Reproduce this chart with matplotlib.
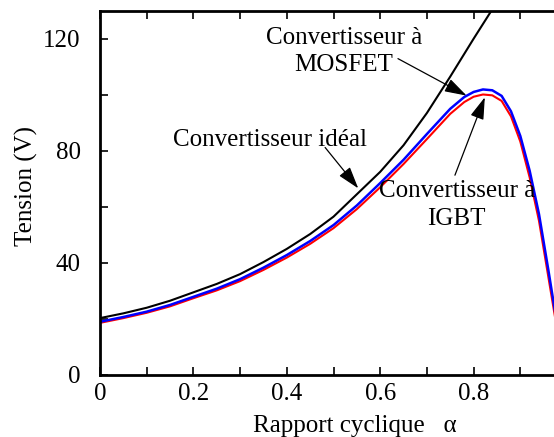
import numpy as np
import matplotlib
matplotlib.use('Agg')
import matplotlib.pyplot as plt
from matplotlib.ticker import MultipleLocator, FuncFormatter

# values
alpha_ideal = [0.00, 0.05, 0.10, 0.15, 0.20, 0.25, 0.30, 0.35, 0.40, 0.45,
               0.50, 0.55, 0.60, 0.65, 0.70, 0.75, 0.80, 0.84, 0.86]
v_ideal = [20.3, 22.0, 24.0, 26.5, 29.5, 32.5, 36.0, 40.3, 45.0, 50.3,
           56.5, 64.5, 72.5, 82.0, 93.5, 106.5, 120.0, 130.5, 136.0]

alpha_conv = [0.00, 0.05, 0.10, 0.15, 0.20, 0.25, 0.30, 0.35, 0.40, 0.45,
              0.50, 0.55, 0.60, 0.65, 0.70, 0.75, 0.78, 0.80, 0.82, 0.84,
              0.86, 0.88, 0.90, 0.92, 0.94, 0.96, 0.975]
v_mosfet = [19.0, 20.7, 22.6, 25.0, 27.9, 30.8, 34.2, 38.3, 42.8, 47.8,
            53.5, 60.5, 68.5, 76.8, 86.0, 95.0, 99.2, 101.0, 101.9, 101.6,
            99.6, 94.1, 85.3, 72.9, 57.4, 37.5, 22.0]
v_igbt = [18.6, 20.3, 22.2, 24.5, 27.4, 30.2, 33.5, 37.5, 41.9, 46.8,
          52.4, 59.2, 67.0, 75.3, 84.2, 93.2, 97.4, 99.3, 100.1, 99.8,
          97.8, 92.3, 83.3, 70.5, 55.0, 35.0, 20.0]

plt.rcParams['font.family'] = ['Liberation Serif', 'DejaVu Serif']

fig = plt.figure(figsize=(5.54, 4.37), dpi=100)
ax = fig.add_axes([0.1805, 0.1419, 0.843, 0.8336])

ax.plot(alpha_ideal, v_ideal, color='black', lw=1.5)
ax.plot(alpha_conv, v_igbt, color='red', lw=1.5)
ax.plot(alpha_conv, v_mosfet, color='blue', lw=1.8)

ax.set_xlim(0, 1)
ax.set_ylim(0, 130)
ax.xaxis.set_major_locator(MultipleLocator(0.2))
ax.xaxis.set_minor_locator(MultipleLocator(0.1))
ax.yaxis.set_major_locator(MultipleLocator(40))
ax.yaxis.set_minor_locator(MultipleLocator(20))
ax.xaxis.set_major_formatter(FuncFormatter(lambda v, p: '%g' % round(v, 1) if v < 0.99 else ''))

ax.tick_params(which='both', direction='in', length=6, width=1.2,
               top=True, right=True, labelsize=18)
ax.tick_params(axis='y', pad=14)
ax.tick_params(axis='x', pad=6)
for s in ax.spines.values():
    s.set_linewidth(2)

ax.set_xlabel('Rapport cyclique   α', fontsize=18, labelpad=2)
ax.xaxis.set_label_coords(0.545, -0.11)
ax.set_ylabel('Tension (V)', fontsize=18, labelpad=6)
ax.yaxis.set_label_coords(-0.133, 0.52)

arrow = dict(arrowstyle='-|>,head_length=0.8,head_width=0.25', color='black',
             lw=0.9, mutation_scale=17, shrinkA=0, shrinkB=0)

ax.text(0.522, 115.4, 'Convertisseur à\nMOSFET', ha='center', va='center',
        fontsize=18, linespacing=1.3)
ax.annotate('', xy=(0.785, 99.7), xytext=(0.638, 112.9), arrowprops=arrow)

ax.text(0.364, 83.7, 'Convertisseur idéal', ha='center', va='center', fontsize=18)
ax.annotate('', xy=(0.553, 66.6), xytext=(0.482, 81.2), arrowprops=arrow)

ax.text(0.764, 60.6, 'Convertisseur à\nIGBT', ha='center', va='center',
        fontsize=18, linespacing=1.35)
ax.annotate('', xy=(0.824, 99.1), xytext=(0.760, 71.3), arrowprops=arrow)

fig.savefig('out.png', dpi=100)
